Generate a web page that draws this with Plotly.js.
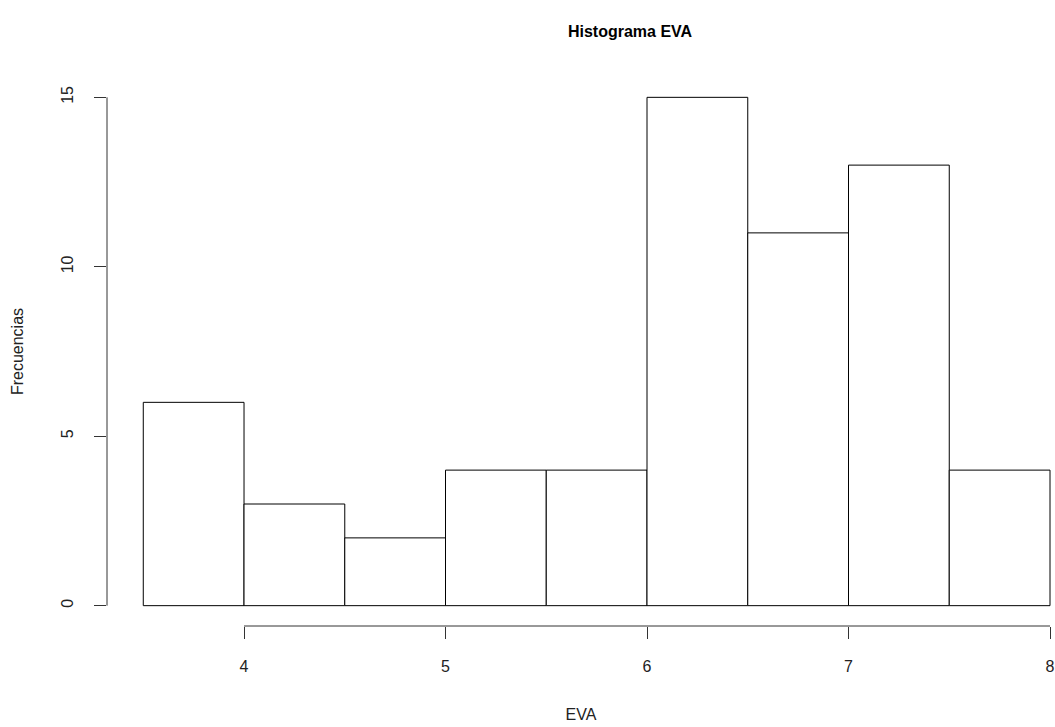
<!DOCTYPE html>
<html>
<head>
<meta charset="utf-8">
<script src="https://cdn.plot.ly/plotly-3.0.1.min.js"></script>
<style>body{margin:0;background:#fff}#chart{width:1055px;height:727px}</style>
</head>
<body>
<div id="chart"></div>
<script>
// Bin edges and counts (histogram of EVA)
const binStarts = [3.5, 4.0, 4.5, 5.0, 5.5, 6.0, 6.5, 7.0, 7.5];
const binWidth = 0.5;
const counts = [6, 3, 2, 4, 4, 15, 11, 13, 4];
const xTicks = [4, 5, 6, 7, 8];
const yTicks = [0, 5, 10, 15];
const chartTitle = "Histograma EVA";
const xLabel = "EVA";
const yLabel = "Frecuencias";

const centers = binStarts.map(s => s + binWidth / 2);
const axisColor = "#333333";
const font = "Liberation Sans, Arial, sans-serif";

const trace = {
  type: "bar",
  x: centers,
  y: counts,
  width: binStarts.map(() => binWidth),
  marker: { color: "#ffffff", line: { color: "#000000", width: 1 } },
  hoverinfo: "x+y"
};

const layout = {
  width: 1055,
  height: 727,
  margin: { l: 107, r: 0, t: 77, b: 101 },
  paper_bgcolor: "#ffffff",
  plot_bgcolor: "#ffffff",
  showlegend: false,
  font: { family: font, size: 16, color: "#222222" },
  title: {
    text: "<b>" + chartTitle + "</b>",
    font: { family: font, size: 16, color: "#000000" },
    x: 630 / 1055, xanchor: "center", xref: "container",
    y: 1 - 31 / 727, yanchor: "middle", yref: "container"
  },
  xaxis: {
    range: [3.320, 8.0248],
    tickvals: xTicks,
    ticktext: xTicks.map(String),
    ticks: "outside", ticklen: 12, tickwidth: 1, tickcolor: axisColor,
    ticklabelstandoff: 14,
    showline: false, showgrid: false, zeroline: false,
    tickfont: { family: font, size: 16, color: "#222222" },
    title: { text: xLabel, font: { family: font, size: 16, color: "#222222" }, standoff: 34 },
    automargin: false,
    fixedrange: true
  },
  yaxis: {
    range: [-0.6, 15.6],
    tickvals: yTicks,
    ticktext: yTicks.map(String),
    tickangle: -90,
    ticks: "outside", ticklen: 12, tickwidth: 1, tickcolor: axisColor,
    ticklabelstandoff: 15,
    showline: false, showgrid: false, zeroline: false,
    tickfont: { family: font, size: 16, color: "#222222" },
    title: { text: yLabel, font: { family: font, size: 16, color: "#222222" }, standoff: 30 },
    automargin: false,
    fixedrange: true
  },
  shapes: [
    { type: "line", xref: "x", yref: "paper", x0: xTicks[0], x1: xTicks[xTicks.length - 1], y0: 0, y1: 0,
      line: { color: axisColor, width: 1 } },
    { type: "line", xref: "paper", yref: "y", x0: 0, x1: 0, y0: yTicks[0], y1: yTicks[yTicks.length - 1],
      line: { color: axisColor, width: 1 } }
  ]
};

Plotly.newPlot("chart", [trace], layout, { displayModeBar: false, staticPlot: true });
</script>
</body>
</html>
